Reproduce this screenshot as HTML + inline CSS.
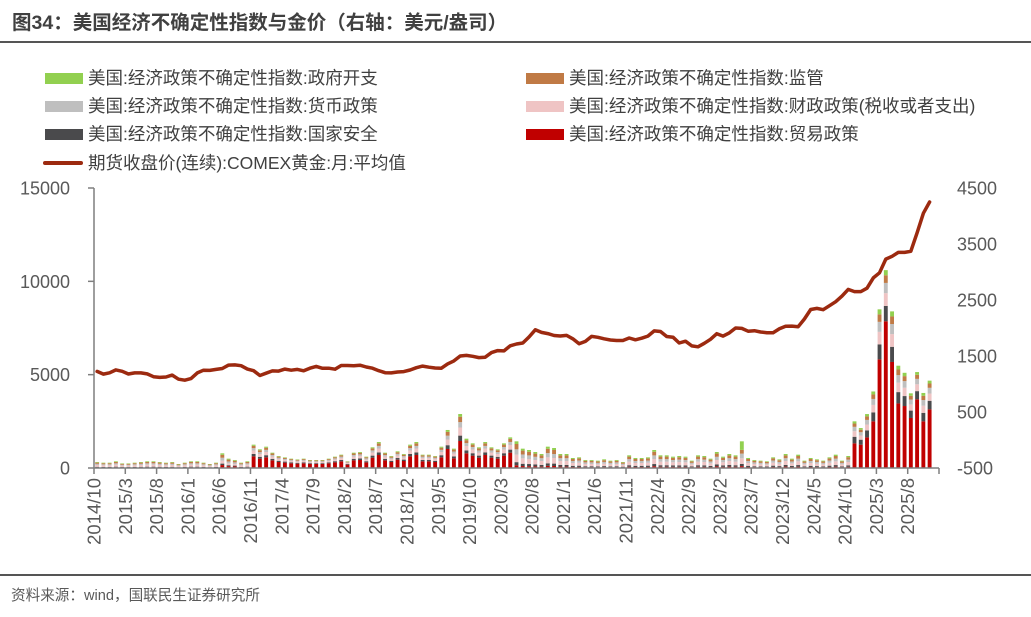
<!DOCTYPE html>
<html><head><meta charset="utf-8">
<style>
html,body{margin:0;padding:0;background:#fff;}
body{width:1031px;height:617px;overflow:hidden;position:relative;font-family:"Liberation Sans","Noto Sans CJK SC",sans-serif;color:#404040;}
.title{position:absolute;left:12px;top:6px;font-size:19.5px;font-weight:bold;color:#404040;}
.rule{position:absolute;left:0;width:1031px;height:2px;background:#555;}
.lg{position:absolute;font-size:17.5px;color:#404040;white-space:nowrap;line-height:20px;}
.sw{position:absolute;width:38px;height:11px;}
.src{position:absolute;left:11px;top:584px;font-size:14.6px;color:#595959;}
svg{position:absolute;left:0;top:0;}
</style></head><body>
<div class="title">图34：美国经济不确定性指数与金价（右轴：美元/盎司）</div>
<div class="rule" style="top:41px"></div>

<div>
<div class="sw" style="left:45px;top:73px;background:#92D050"></div>
<div class="lg" style="left:88px;top:68px">美国:经济政策不确定性指数:政府开支</div>
<div class="sw" style="left:45px;top:101px;background:#BFBFBF"></div>
<div class="lg" style="left:88px;top:96px">美国:经济政策不确定性指数:货币政策</div>
<div class="sw" style="left:45px;top:129px;background:#4A4A4C"></div>
<div class="lg" style="left:88px;top:124px">美国:经济政策不确定性指数:国家安全</div>
<div class="sw" style="left:43px;top:161px;height:4px;width:40px;background:#9C2A10;border-radius:2px"></div>
<div class="lg" style="left:88px;top:153px">期货收盘价(连续):COMEX黄金:月:平均值</div>
<div class="sw" style="left:526px;top:73px;background:#C07A45"></div>
<div class="lg" style="left:569px;top:68px">美国:经济政策不确定性指数:监管</div>
<div class="sw" style="left:526px;top:101px;background:#EFC4C4"></div>
<div class="lg" style="left:569px;top:96px">美国:经济政策不确定性指数:财政政策(税收或者支出)</div>
<div class="sw" style="left:526px;top:129px;background:#C00000"></div>
<div class="lg" style="left:569px;top:124px">美国:经济政策不确定性指数:贸易政策</div>
</div>

<svg id="chart" width="1031" height="617"></svg>

<div class="rule" style="top:574px"></div>
<div class="src">资料来源：wind，国联民生证券研究所</div>

<script>
const startYear = 2014, startMonth = 10;
const trade = [32,28,28,36,25,25,28,32,36,36,32,28,32,21,28,36,36,28,21,28,157,100,86,28,36,
625,500,572,410,321,286,250,232,250,214,214,214,250,303,357,178,410,428,303,553,696,410,321,446,375,625,696,357,357,321,572,1018,518,1446,785,660,553,696,553,500,660,821,
143,104,96,86,75,114,107,75,75,54,57,43,43,39,46,39,43,32,68,54,54,57,96,68,68,61,64,61,39,68,64,50,86,61,75,68,100,54,43,39,36,57,46,75,50,71,39,54,46,39,57,71,39,64,
1320,1250,1640,2500,5820,7860,5680,3460,3320,2680,3680,2500,3140];
const security = [32,28,28,36,25,25,28,32,36,36,32,28,32,21,28,36,36,28,21,28,79,50,43,28,36,
125,100,114,82,64,57,50,46,50,43,43,43,50,61,71,36,82,86,61,111,139,82,64,89,75,125,139,71,71,64,114,204,104,289,157,132,111,139,111,100,132,164,
171,124,116,103,90,137,129,90,90,64,69,51,51,47,56,47,51,39,81,64,64,69,116,81,81,73,77,73,47,81,77,60,103,73,90,81,120,64,51,47,43,69,56,90,60,86,47,64,56,47,69,86,47,77,
354,267,375,480,804,822,813,606,534,396,438,456,462];
const fiscal = [96,86,86,107,75,75,86,96,107,107,96,86,96,64,86,107,107,86,64,86,157,100,86,86,107,
188,150,171,123,96,86,75,70,75,64,64,64,75,91,107,54,123,128,91,166,209,123,96,134,112,188,209,107,107,96,171,305,155,434,236,198,166,209,166,150,198,246,
400,290,270,240,210,320,300,210,210,150,160,120,120,110,130,110,120,90,190,150,150,160,270,190,190,170,180,170,110,190,180,140,240,170,210,190,300,150,120,110,100,160,130,210,140,200,110,150,130,110,160,200,110,180,
295,222,312,400,670,685,678,505,445,330,365,380,385];
const monetary = [64,57,57,71,50,50,57,64,71,71,64,57,64,43,57,71,71,57,43,57,157,100,86,57,71,
125,100,114,82,64,57,50,46,50,43,43,43,50,61,71,36,82,86,61,111,139,82,64,89,75,125,139,71,71,64,114,204,104,289,157,132,111,139,111,100,132,164,
286,207,193,171,150,229,214,150,150,107,114,86,86,79,93,79,86,64,136,107,107,114,193,136,136,121,129,121,79,136,129,100,171,121,150,136,250,107,86,79,71,114,93,150,100,143,79,107,93,79,114,143,79,129,
236,178,250,320,536,548,542,404,356,264,292,304,308];
const regulation = [64,57,57,71,50,50,57,64,71,71,64,57,64,43,57,71,71,57,43,57,157,100,86,57,71,
125,100,114,82,64,57,50,46,50,43,43,43,50,61,71,36,82,86,61,111,139,82,64,89,75,125,139,71,71,64,114,204,104,289,157,132,111,139,111,100,132,164,
286,207,193,171,150,229,214,150,150,107,114,86,86,79,93,79,86,64,136,107,107,114,193,136,136,121,129,121,79,136,129,100,171,121,150,136,200,107,86,79,71,114,93,150,100,143,79,107,93,79,114,143,79,129,
177,134,188,240,402,411,406,303,267,198,219,228,231];
const spending = [32,29,29,36,25,25,29,33,36,36,33,29,33,22,29,36,36,29,22,29,79,50,42,29,36,
62,50,57,41,32,29,25,23,25,21,21,21,25,30,36,18,41,43,30,55,70,41,32,45,38,62,70,36,36,32,57,102,52,145,79,66,55,70,55,50,66,82,
143,104,96,86,75,114,107,75,75,54,57,43,43,39,46,39,43,32,68,54,54,57,96,68,68,61,64,61,39,68,64,50,86,61,75,68,459,54,43,39,36,57,46,75,50,71,39,54,46,39,57,71,39,64,
118,89,125,160,268,274,271,202,178,132,146,152,154];
const gold = [1225,1176,1200,
1251,1227,1179,1198,1199,1181,1131,1117,1125,1159,1086,1068,
1097,1199,1246,1242,1260,1276,1337,1341,1326,1266,1238,1151,
1192,1234,1231,1266,1246,1260,1236,1283,1315,1280,1283,1265,
1331,1331,1325,1335,1303,1282,1238,1201,1198,1215,1221,1250,
1291,1320,1300,1285,1283,1359,1413,1500,1510,1495,1471,1479,
1560,1597,1591,1683,1715,1732,1840,1968,1921,1900,1866,1858,
1867,1808,1718,1760,1850,1834,1807,1785,1776,1777,1821,1790,
1817,1856,1948,1937,1848,1836,1732,1764,1681,1664,1726,1798,
1898,1855,1912,2000,1992,1943,1951,1928,1916,1916,1985,2030,
2034,2023,2160,2330,2350,2326,2398,2470,2570,2690,2650,2650,
2710,2895,2985,3230,3280,3350,3350,3370,3700,4050,4250];
const leftTicks = [0,5000,10000,15000];
const rightTicks = [-500,500,1500,2500,3500,4500];

const NS = 'http://www.w3.org/2000/svg';
const svg = document.getElementById('chart');
const X0 = 94, X1 = 939, Y0 = 468, Y1 = 188;
const nBands = 135;
const band = (X1 - X0) / nBands;
const categories = trade.map((_, i) => {
  const m = startMonth - 1 + i;
  return (startYear + Math.floor(m / 12)) + '/' + (m % 12 + 1);
});
function xBand(i){ return X0 + band * i; }
function xc(i){ return X0 + band * (i + 0.5); }
function yL(v){ return Y0 - (v / 15000) * (Y0 - Y1); }
function yR(v){ return Y0 - ((v + 500) / 5000) * (Y0 - Y1); }
function mk(tag, attrs){ const e = document.createElementNS(NS, tag); for (const k in attrs) e.setAttribute(k, attrs[k]); svg.appendChild(e); return e; }

let ax = mk('line', {x1:X0, y1:Y1, x2:X0, y2:Y0, stroke:'#7f7f7f', 'stroke-width':1.5});


leftTicks.forEach(v => {
  const t = mk('line', {x1:X0-6, y1:yL(v), x2:X0, y2:yL(v), stroke:'#7f7f7f', 'stroke-width':1.5});
  
  
  const tx = mk('text', {x:70, y:yL(v)+6.5, 'text-anchor':'end', 'font-size':18, fill:'#595959', 'font-family':'Liberation Sans, sans-serif'});
  tx.textContent = v;
  
  
});
rightTicks.forEach(v => {
  const tx = mk('text', {x:957, y:yR(v)+6.5, 'text-anchor':'start', 'font-size':18, fill:'#595959', 'font-family':'Liberation Sans, sans-serif'});
  tx.textContent = v;
  
  
});

const series = [
  {arr: trade, color:'#C00000', name:'bar-trade'},
  {arr: security, color:'#4A4A4C', name:'bar-security'},
  {arr: fiscal, color:'#EFC4C4', name:'bar-fiscal'},
  {arr: monetary, color:'#BFBFBF', name:'bar-monetary'},
  {arr: regulation, color:'#C07A45', name:'bar-regulation'},
  {arr: spending, color:'#92D050', name:'bar-spending'}
];
const bw = band * 0.62;
for (let i = 0; i < trade.length; i++) {
  let acc = 0;
  series.forEach(s => {
    const v = s.arr[i];
    const yt = yL(acc + v), yb = yL(acc);
    const r = mk('rect', {x:xc(i)-bw/2, y:yt, width:bw, height:Math.max(0, yb-yt), fill:s.color});
    
    
    acc += v;
  });
}

ax = mk('line', {x1:X0, y1:Y0, x2:X1, y2:Y0, stroke:'#7f7f7f', 'stroke-width':1.5});


for (let i = 0; i <= nBands; i += 5) {
  const t = mk('line', {x1:xBand(i), y1:Y0, x2:xBand(i), y2:Y0+6, stroke:'#7f7f7f', 'stroke-width':1.5});
  
  
  if (i < categories.length) {
    const x = xBand(i) + 6.5, y = 478;
    const tx = mk('text', {x:x, y:y, 'text-anchor':'end', 'font-size':18.5, fill:'#595959', 'font-family':'Liberation Sans, sans-serif', transform:'rotate(-90 '+x+' '+y+')'});
    tx.textContent = categories[i];
    
    
  }
}

const pts = gold.map((v, i) => xc(i).toFixed(1) + ',' + yR(v).toFixed(1)).join(' ');
const pl = mk('polyline', {points:pts, fill:'none', stroke:'#9C2A10', 'stroke-width':3.5, 'stroke-linejoin':'round', 'stroke-linecap':'round'});


</script>
</body></html>
